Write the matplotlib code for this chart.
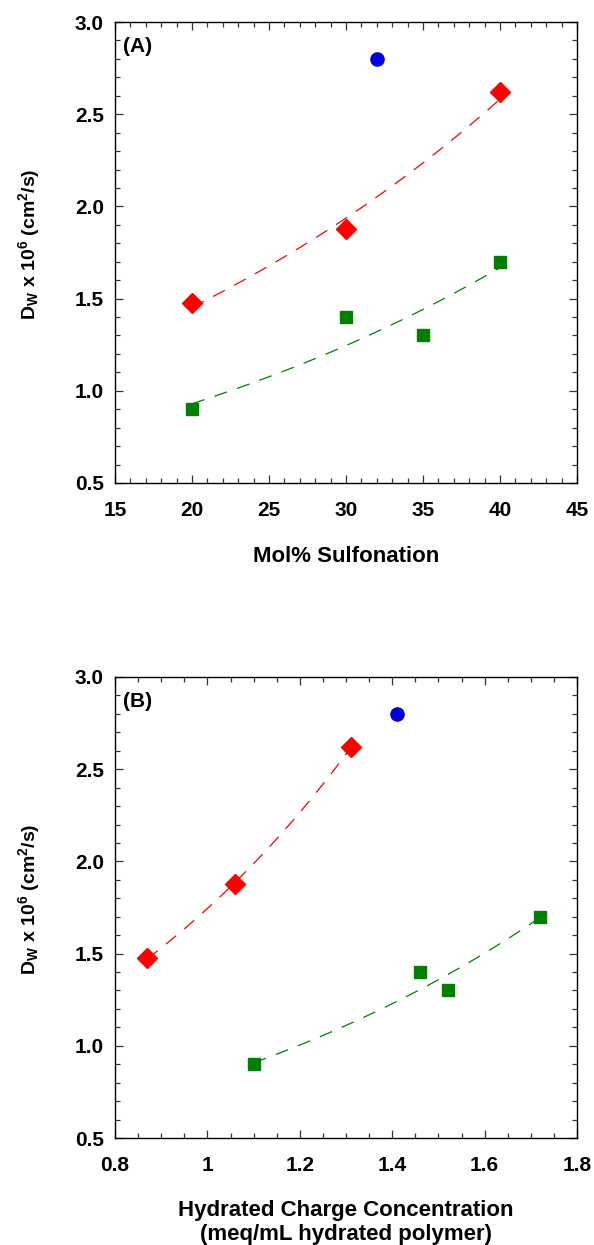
import numpy as np
import matplotlib
matplotlib.use("Agg")
import matplotlib.pyplot as plt
from matplotlib.ticker import MultipleLocator, FormatStrFormatter

plt.rcParams['font.family'] = ['Liberation Sans', 'DejaVu Sans']
plt.rcParams['font.weight'] = 'bold'
plt.rcParams['mathtext.fontset'] = 'custom'
plt.rcParams['mathtext.rm'] = 'Liberation Sans:bold'
plt.rcParams['mathtext.bf'] = 'Liberation Sans:bold'
plt.rcParams['mathtext.default'] = 'bf'

# Panel A data: Mol% sulfonation
a_red_x = [20, 30, 40]
a_red_y = [1.475, 1.88, 2.62]
a_green_x = [20, 30, 35, 40]
a_green_y = [0.90, 1.40, 1.30, 1.70]
a_blue_x = [32]
a_blue_y = [2.80]

# Panel B data: hydrated charge concentration
b_red_x = [0.87, 1.06, 1.31]
b_red_y = [1.475, 1.88, 2.62]
b_green_x = [1.10, 1.46, 1.52, 1.72]
b_green_y = [0.90, 1.40, 1.30, 1.70]
b_blue_x = [1.41]
b_blue_y = [2.80]

RED = '#ff0000'
GREEN = '#008000'
BLUE = '#0000dd'

W, H = 594, 1245
fig = plt.figure(figsize=(W / 100, H / 100), dpi=100)

def exp_fit_line(ax, x, y, color):
    x = np.asarray(x, float); y = np.asarray(y, float)
    b, a = np.polyfit(x, np.log(y), 1)
    xs = np.linspace(x.min(), x.max(), 100)
    ax.plot(xs, np.exp(a + b * xs), color=color, lw=0.9, dashes=(10.5, 8.5), zorder=2)

def style(ax, xlim, xmaj, xmin, xfmt):
    ax.set_xlim(*xlim)
    ax.set_ylim(0.5, 3.0)
    ax.xaxis.set_major_locator(MultipleLocator(xmaj))
    ax.xaxis.set_minor_locator(MultipleLocator(xmin))
    ax.yaxis.set_major_locator(MultipleLocator(0.5))
    ax.yaxis.set_minor_locator(MultipleLocator(0.1))
    ax.yaxis.set_major_formatter(FormatStrFormatter('%.1f'))
    if xfmt:
        ax.xaxis.set_major_formatter(xfmt)
    ax.tick_params(which='both', direction='in', top=True, right=True, labelsize=15, width=0.9, color='#333333')
    ax.tick_params(which='major', length=6)
    ax.tick_params(axis='y', which='major', pad=8)
    ax.tick_params(axis='x', which='major', pad=13)
    ax.tick_params(which='minor', length=3.3)
    for s in ax.spines.values():
        s.set_linewidth(1.0)
    for lab in ax.get_xticklabels() + ax.get_yticklabels():
        lab.set_fontweight('bold')
    ax.set_ylabel(r'D$_\mathbf{W}$ x 10$^\mathbf{6}$ (cm$^\mathbf{2}$/s)', fontsize=14, fontweight='bold')
    ax.yaxis.set_label_coords(-0.158, 0.518)

L, R = 115, 577
axA = fig.add_axes([L / W, (H - 483) / H, (R - L) / W, (483 - 22) / H])
exp_fit_line(axA, a_red_x, a_red_y, RED)
exp_fit_line(axA, a_green_x, a_green_y, GREEN)
axA.plot(a_red_x, a_red_y, 'D', color=RED, ms=10, mec=RED, zorder=3)
axA.plot(a_green_x, a_green_y, 's', color=GREEN, ms=8, mec=GREEN, zorder=3)
axA.plot(a_blue_x, a_blue_y, 'o', color=BLUE, ms=9.5, mec=BLUE, zorder=3)
style(axA, (15, 45), 5, 1, None)
axA.set_xlabel('Mol% Sulfonation', fontsize=16, fontweight='bold', labelpad=19)
axA.text(0.017, 0.968, '(A)', transform=axA.transAxes, fontsize=15, fontweight='bold', va='top')

axB = fig.add_axes([L / W, (H - 1138) / H, (R - L) / W, (1138 - 677) / H])
exp_fit_line(axB, b_red_x, b_red_y, RED)
exp_fit_line(axB, b_green_x, b_green_y, GREEN)
axB.plot(b_red_x, b_red_y, 'D', color=RED, ms=10, mec=RED, zorder=3)
axB.plot(b_green_x, b_green_y, 's', color=GREEN, ms=8, mec=GREEN, zorder=3)
axB.plot(b_blue_x, b_blue_y, 'o', color=BLUE, ms=9.5, mec=BLUE, zorder=3)
style(axB, (0.8, 1.8), 0.2, 0.05, FormatStrFormatter('%g'))
axB.set_xlabel('Hydrated Charge Concentration\n(meq/mL hydrated polymer)', fontsize=16, fontweight='bold', labelpad=18, linespacing=1.2)
axB.text(0.017, 0.968, '(B)', transform=axB.transAxes, fontsize=15, fontweight='bold', va='top')

fig.savefig('out.png', dpi=100)
